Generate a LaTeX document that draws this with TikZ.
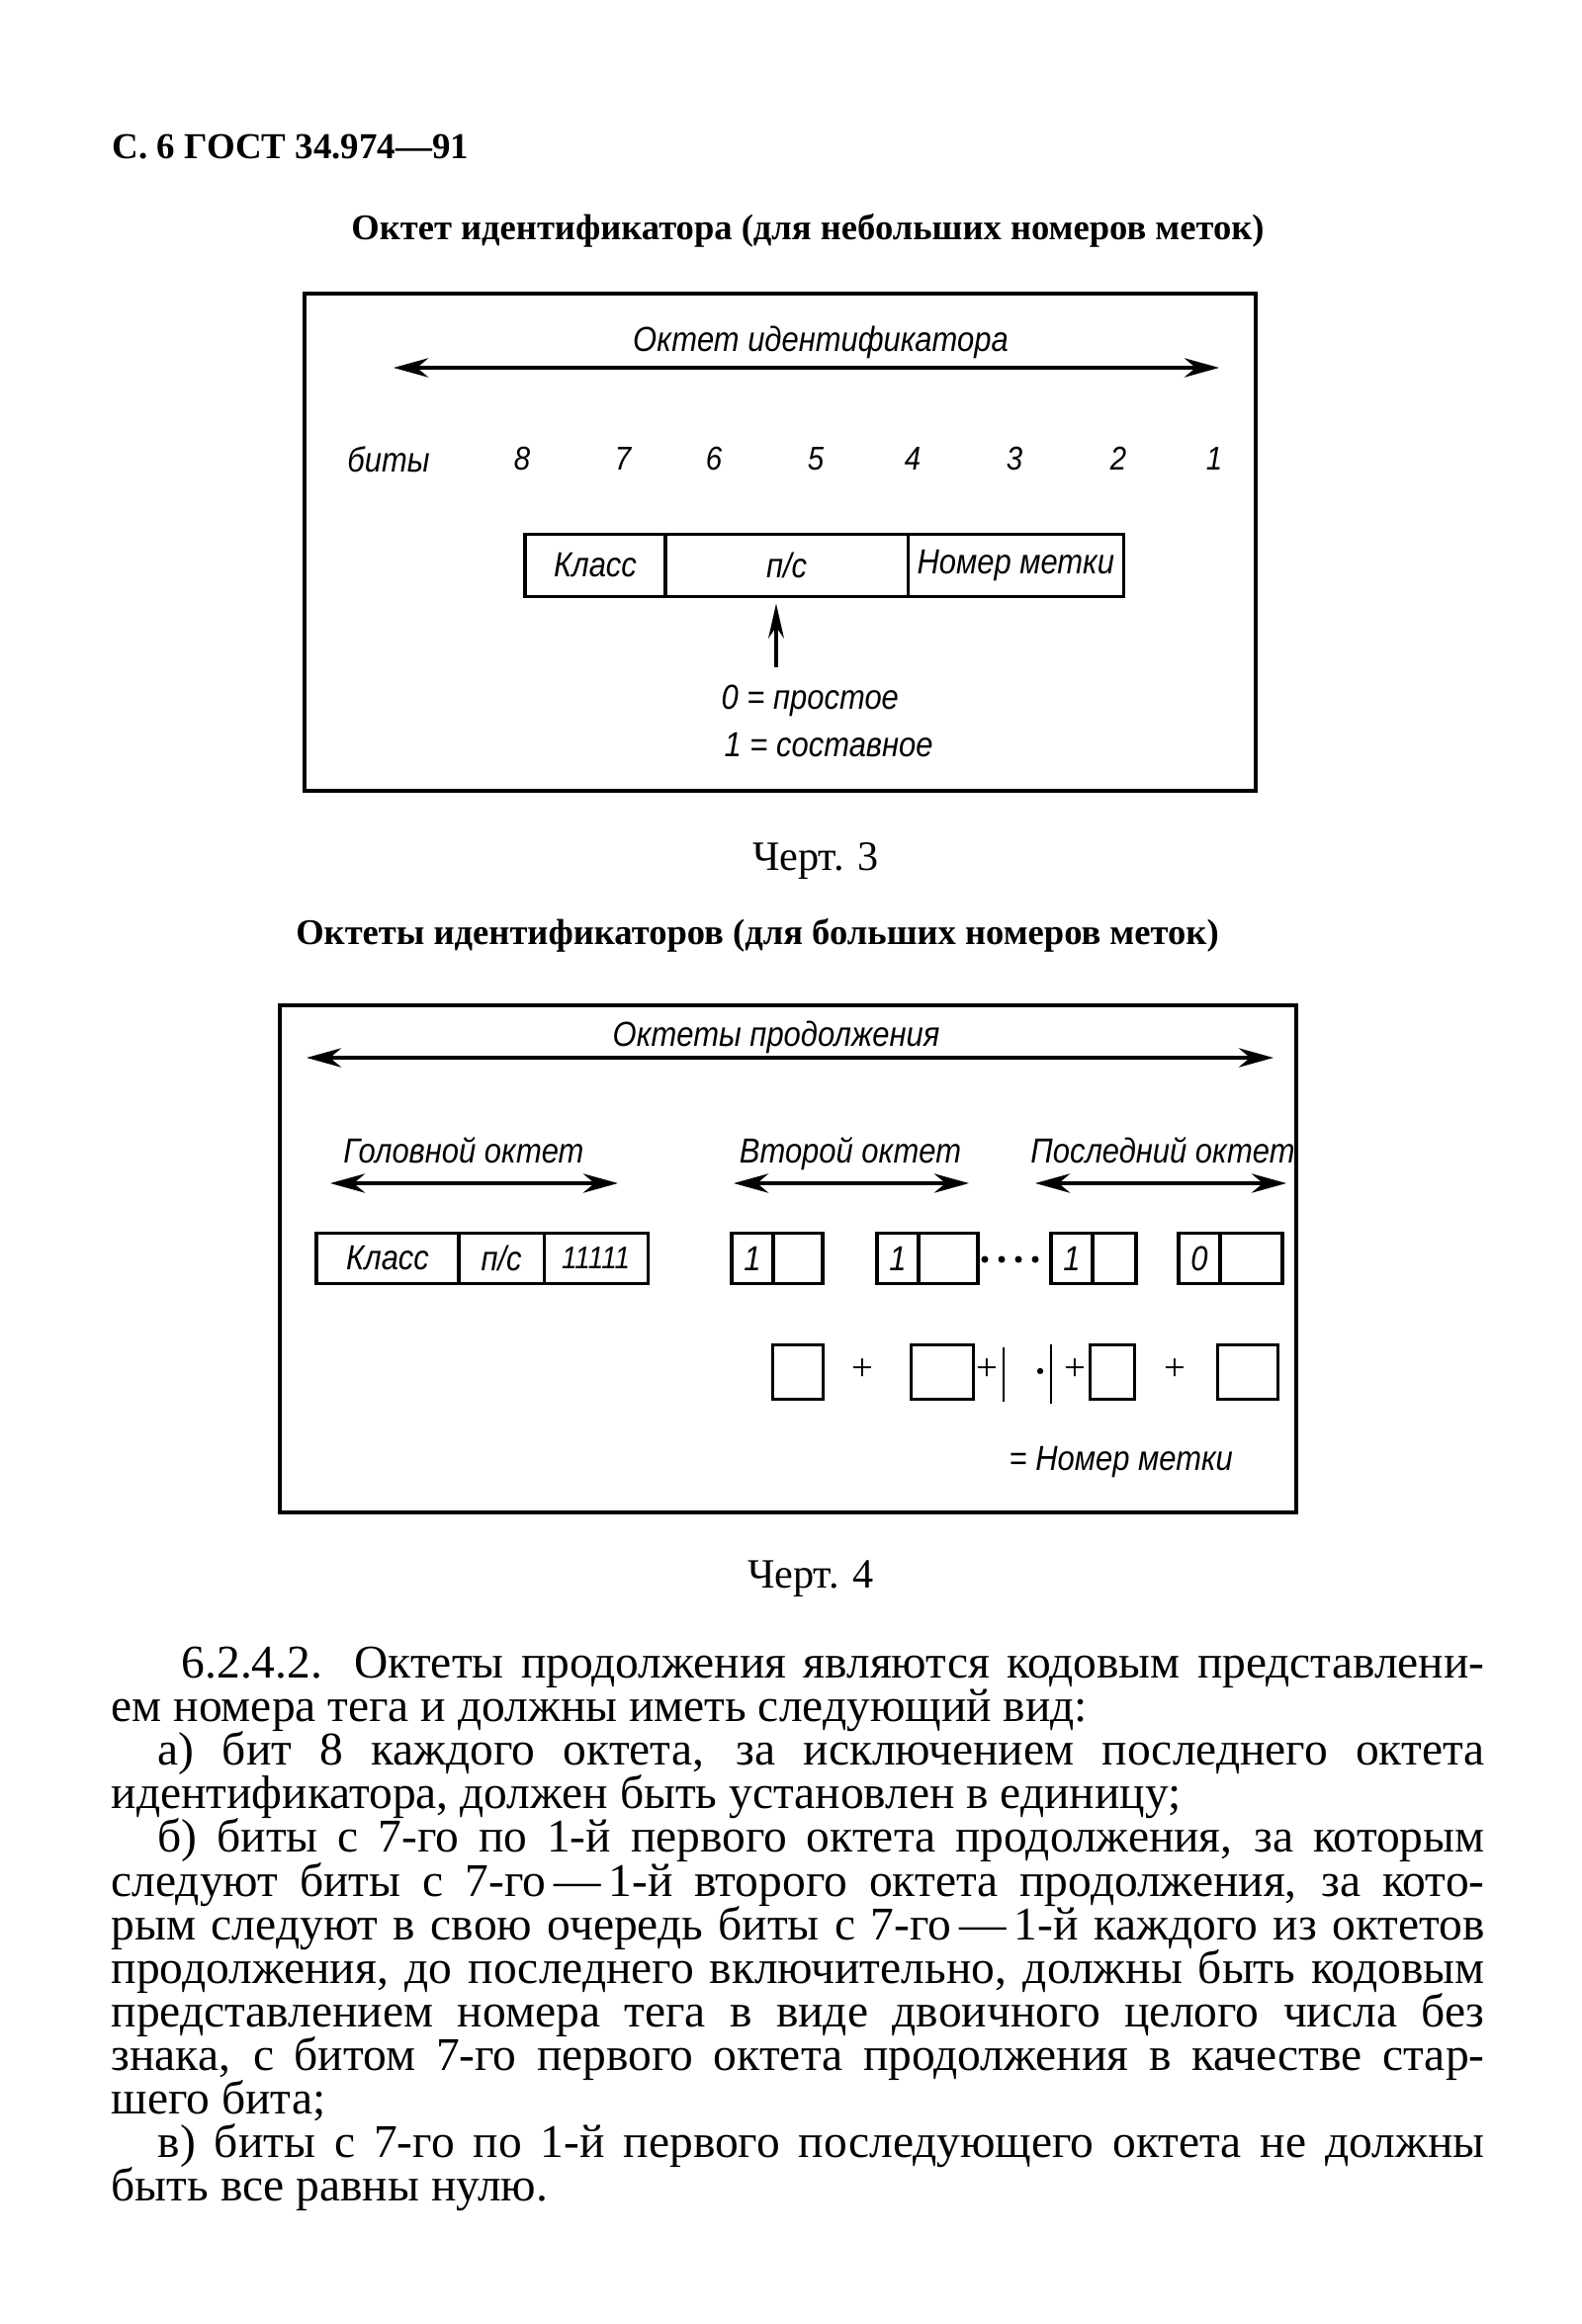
\documentclass[tikz,border=0pt]{standalone}
\usepackage{fontspec}
\setmainfont{Liberation Serif}
\newfontfamily\gostfont[FakeStretch=0.88]{Liberation Sans}
\usetikzlibrary{arrows.meta,positioning}

\begin{document}
\begin{tikzpicture}[x=0.01cm,y=-0.01cm,
  outerbox/.style={line width=1.4pt},
  cell/.style={draw,line width=0.9pt,inner sep=1pt,outer sep=0pt,
    font=\gostfont\itshape\fontsize{10}{12}\selectfont},
  lbl/.style={inner sep=0pt,anchor=base,font=\gostfont\itshape\fontsize{10}{12}\selectfont},
  dimarrow/.style={line width=1pt,{Stealth[length=10pt,width=5.5pt]}-{Stealth[length=10pt,width=5.5pt]}},
  ttl/.style={inner sep=0pt,anchor=base,font=\bfseries\fontsize{10.4}{12}\selectfont},
  chert/.style={inner sep=0pt,anchor=base,font=\fontsize{12}{14}\selectfont},
  txt/.style={anchor=base west,inner sep=0pt,font=\fontsize{13.5}{16}\selectfont}]
\useasboundingbox (0,0) rectangle (1599,2351);

\node[anchor=base west,inner sep=0pt,font=\bfseries\fontsize{10.5}{12}\selectfont] (hdr) at (113,160) {С. 6 ГОСТ 34.974—91};

% Chert. 3
\node[ttl] (title1) at (817,242) {Октет идентификатора (для небольших номеров меток)};
\draw[outerbox] (308,297) rectangle (1270,800);
\node[lbl] (octlbl) at (830,355) {Октет идентификатора};
\coordinate (oct1l) at (398,372);
\coordinate (oct1r) at (1233,372);
\draw[dimarrow] (oct1l) -- (oct1r);
\node[lbl] (bits) at (393,477) {биты};
\foreach \b/\x in {8/528,7/630,6/722,5/825,4/923,3/1026,2/1131,1/1228}
  \node[lbl,font=\gostfont\itshape\fontsize{9.5}{12}\selectfont] (bit\b) at (\x,475) {\b};
\node[cell,minimum width=1.42cm,minimum height=0.63cm] (klass) at (602,572) {Класс};
\node[cell,minimum width=2.45cm,minimum height=0.63cm,right=0pt of klass] (pc) {п/с};
\node[cell,minimum width=2.18cm,minimum height=0.63cm,right=0pt of pc] (tagno) {Номер метки};
\coordinate (pcfoot) at (785,675);
\draw[line width=1pt,-{Stealth[length=10pt,width=4.5pt]},shorten >=2pt] (pcfoot) -- (pc.south -| pcfoot);
\node[lbl,anchor=base west] (prim) at (729,717) {0 = простое};
\node[lbl,anchor=base west] (cons) at (732,765) {1 = составное};
\node[chert] (chert3) at (825,880) {Черт. 3};

% Chert. 4
\node[ttl] (title2) at (766,955) {Октеты идентификаторов (для больших номеров меток)};
\draw[outerbox] (283,1017) rectangle (1311,1530);
\node[lbl] (contlbl) at (785,1058) {Октеты продолжения};
\coordinate (cont1l) at (310,1070);
\coordinate (cont1r) at (1288,1070);
\draw[dimarrow] (cont1l) -- (cont1r);
\node[lbl] (headlbl) at (469,1176) {Головной октет};
\node[lbl] (seclbl) at (860,1176) {Второй октет};
\node[lbl] (lastlbl) at (1176,1176) {Последний октет};
\coordinate (headl) at (334,1197);
\coordinate (headr) at (625,1197);
\coordinate (secl) at (742,1197);
\coordinate (secr) at (980,1197);
\coordinate (lastl) at (1047,1197);
\coordinate (lastr) at (1301,1197);
\draw[dimarrow] (headl) -- (headr);
\draw[dimarrow] (secl) -- (secr);
\draw[dimarrow] (lastl) -- (lastr);
\node[cell,minimum width=1.44cm,minimum height=0.51cm] (hklass) at (392,1273) {Класс};
\node[cell,minimum width=0.86cm,minimum height=0.51cm,right=0pt of hklass] (hpc) {п/с};
\node[cell,minimum width=1.05cm,minimum height=0.51cm,right=0pt of hpc,
  font=\gostfont\itshape\fontsize{9}{12}\selectfont] (hnum) {11111};
\foreach \n/\x/\b/\w in {a/740/1/0.50,b/887/1/0.60,c/1063/1/0.44,d/1192/0/0.63}{
  \node[cell,minimum width=0.42cm,minimum height=0.51cm,anchor=west] (flag\n) at (\x,1273) {\b};
  \node[cell,minimum width=\w cm,minimum height=0.51cm,right=0pt of flag\n] (rest\n) {};
}
\foreach \x in {996,1013,1030,1047}
  \fill (\x,1274) circle (1pt);
\foreach \n/\x/\w in {1/807/0.51,2/953/0.63,3/1125/0.45,4/1262/0.61}
  \node[cell,minimum width=\w cm,minimum height=0.55cm] (sum\n) at (\x,1388) {};
\foreach \n/\x in {1/872,2/998,3/1087,4/1188}
  \node[inner sep=0pt,font=\fontsize{11}{12}\selectfont] (plus\n) at (\x,1386) {+};
\draw[line width=0.8pt] (1015,1363) -- (1015,1418);
\draw[line width=0.8pt] (1063,1360) -- (1063,1420);
\fill (1052,1387) circle (0.9pt);
\node[lbl,anchor=base west] (sumeq) at (1020,1487) {= Номер метки};
\node[chert] (chert4) at (820,1606) {Черт. 4};

% text
\node[txt] (l1) at (183,1697) {\makebox[13.17cm][s]{6.2.4.2. Октеты продолжения являются кодовым представлени-}};
\node[txt] (l2) at (112,1741) {ем номера тега и должны иметь следующий вид:};
\node[txt] (l3) at (159,1785) {\makebox[13.41cm][s]{а) бит 8 каждого октета, за исключением последнего октета}};
\node[txt] (l4) at (112,1829) {идентификатора, должен быть установлен в единицу;};
\node[txt] (l5) at (159,1873) {\makebox[13.41cm][s]{б) биты с 7-го по 1-й первого октета продолжения, за которым}};
\node[txt] (l6) at (112,1918) {\makebox[13.88cm][s]{следуют биты с 7-го\,—\,1-й второго октета продолжения, за кото-}};
\node[txt] (l7) at (112,1962) {\makebox[13.88cm][s]{рым следуют в свою очередь биты с 7-го\,—\,1-й каждого из октетов}};
\node[txt] (l8) at (112,2006) {\makebox[13.88cm][s]{продолжения, до последнего включительно, должны быть кодовым}};
\node[txt] (l9) at (112,2050) {\makebox[13.88cm][s]{представлением номера тега в виде двоичного целого числа без}};
\node[txt] (l10) at (112,2094) {\makebox[13.88cm][s]{знака, с битом 7-го первого октета продолжения в качестве стар-}};
\node[txt] (l11) at (112,2138) {шего бита;};
\node[txt] (l12) at (159,2182) {\makebox[13.41cm][s]{в) биты с 7-го по 1-й первого последующего октета не должны}};
\node[txt] (l13) at (112,2226) {быть все равны нулю.};
\end{tikzpicture}
\end{document}
